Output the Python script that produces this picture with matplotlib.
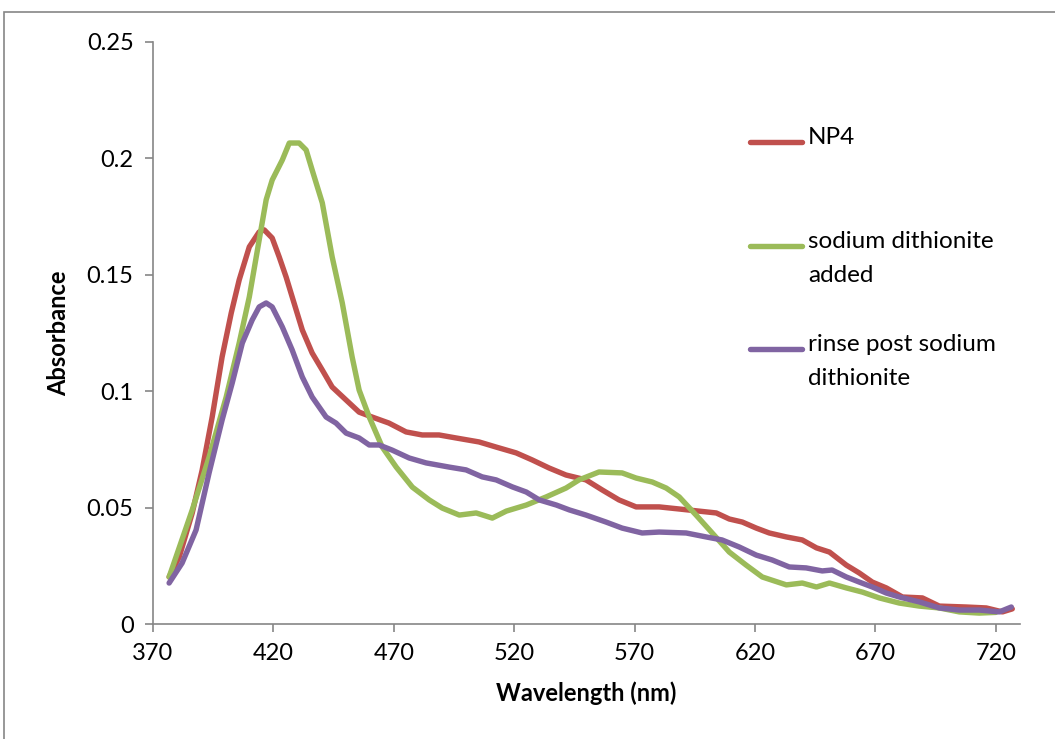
import matplotlib.pyplot as plt
from matplotlib.lines import Line2D
from matplotlib.patches import Rectangle

plt.rcParams['font.family'] = ['Lato', 'DejaVu Sans']

# NP4
np4_wl = [376.7, 380.9, 386.3, 390.4, 394.6, 398.7, 402.5, 405.8, 410.0, 414.1, 416.2,
          419.5, 422.4, 425.3, 427.8, 432.0, 436.1, 440.3, 444.4, 450.2, 455.6, 461.0,
          468.0, 475.1, 481.8, 488.8, 495.9, 505.4, 512.5, 520.8, 527.4, 534.5, 541.5,
          549.8, 556.5, 563.5, 570.6, 580.2, 588.5, 603.9, 609.3, 614.7, 620.5, 625.9,
          633.0, 639.6, 645.5, 650.9, 657.9, 663.3, 668.7, 674.5, 681.2, 689.5, 696.5,
          707.7, 716.0, 722.7, 726.8]
np4_abs = [0.0202, 0.0288, 0.0477, 0.0660, 0.0890, 0.1147, 0.1336, 0.1478, 0.1620, 0.1684, 0.1693,
           0.1658, 0.1577, 0.1490, 0.1405, 0.1263, 0.1164, 0.1091, 0.1018, 0.0962, 0.0910, 0.0889,
           0.0863, 0.0825, 0.0812, 0.0812, 0.0799, 0.0782, 0.0760, 0.0735, 0.0705, 0.0670, 0.0640,
           0.0619, 0.0576, 0.0533, 0.0503, 0.0503, 0.0494, 0.0477, 0.0451, 0.0438, 0.0412, 0.0391,
           0.0374, 0.0361, 0.0327, 0.0309, 0.0253, 0.0219, 0.0180, 0.0155, 0.0116, 0.0112, 0.0077,
           0.0073, 0.0069, 0.0052, 0.0065]

# sodium dithionite added
sda_wl = [376.7, 386.3, 393.3, 400.4, 405.8, 410.0, 414.1, 417.0, 419.5, 423.7, 426.6,
          430.7, 433.6, 436.1, 440.3, 444.4, 448.6, 452.7, 455.6, 459.8, 465.2, 471.0,
          477.7, 484.7, 490.1, 497.2, 504.2, 510.9, 516.7, 525.0, 533.3, 541.5, 546.9,
          555.2, 564.8, 570.6, 577.3, 583.1, 588.5, 595.5, 602.2, 609.3, 616.3, 623.0,
          633.0, 639.6, 645.5, 650.9, 657.9, 664.6, 671.6, 679.9, 688.2, 696.5, 704.8,
          713.1, 720.0]
sda_abs = [0.0202, 0.0490, 0.0717, 0.0975, 0.1207, 0.1405, 0.1650, 0.1822, 0.1907, 0.1993, 0.2066,
           0.2066, 0.2036, 0.1950, 0.1809, 0.1577, 0.1379, 0.1147, 0.1005, 0.0889, 0.0760, 0.0674,
           0.0588, 0.0533, 0.0498, 0.0468, 0.0477, 0.0455, 0.0485, 0.0511, 0.0546, 0.0584, 0.0619,
           0.0653, 0.0649, 0.0627, 0.0610, 0.0584, 0.0546, 0.0468, 0.0391, 0.0309, 0.0253, 0.0202,
           0.0168, 0.0176, 0.0159, 0.0176, 0.0155, 0.0137, 0.0112, 0.0090, 0.0077, 0.0069, 0.0052,
           0.0047, 0.0050]

# rinse post sodium dithionite
rin_wl = [376.7, 382.1, 387.9, 393.3, 398.7, 402.9, 407.1, 411.2, 414.1, 417.0, 419.5,
          423.7, 427.8, 432.0, 436.1, 441.9, 446.0, 450.2, 455.6, 459.8, 463.9, 469.3,
          476.4, 483.4, 493.0, 500.0, 506.7, 512.5, 519.2, 525.0, 530.4, 537.5, 542.9,
          549.8, 558.1, 564.8, 573.1, 580.2, 591.4, 599.7, 606.3, 613.4, 620.5, 627.1,
          634.2, 641.2, 647.9, 652.0, 657.9, 663.3, 668.7, 674.5, 679.9, 688.2, 696.5,
          704.8, 713.1, 721.4, 726.4]
rin_abs = [0.0176, 0.0262, 0.0404, 0.0649, 0.0876, 0.1035, 0.1207, 0.1306, 0.1362, 0.1379, 0.1362,
           0.1276, 0.1177, 0.1061, 0.0975, 0.0889, 0.0863, 0.0820, 0.0799, 0.0769, 0.0769, 0.0747,
           0.0713, 0.0692, 0.0674, 0.0662, 0.0632, 0.0619, 0.0589, 0.0567, 0.0533, 0.0511, 0.0490,
           0.0468, 0.0438, 0.0412, 0.0391, 0.0395, 0.0391, 0.0374, 0.0361, 0.0331, 0.0296, 0.0275,
           0.0245, 0.0241, 0.0228, 0.0232, 0.0202, 0.0180, 0.0159, 0.0133, 0.0116, 0.0095, 0.0069,
           0.0060, 0.0060, 0.0052, 0.0073]

labels = ['NP4', 'sodium dithionite\nadded', 'rinse post sodium\ndithionite']
colors = ['#C0504D', '#9BBB59', '#8064A2']
xticks = [370, 420, 470, 520, 570, 620, 670, 720]
yticks = [0, 0.05, 0.1, 0.15, 0.2, 0.25]
ytick_labels = ['0', '0.05', '0.1', '0.15', '0.2', '0.25']

fig = plt.figure(figsize=(10.55, 7.39), dpi=100)
ax = fig.add_axes([0.145, 0.1556, 0.8218, 0.7876])

series = [(np4_wl, np4_abs), (sda_wl, sda_abs), (rin_wl, rin_abs)]
for (x, y), c in zip(series, colors):
    ax.plot(x, y, color=c, lw=3.9, solid_capstyle='round', solid_joinstyle='round')

ax.set_xlim(370, 730)
ax.set_ylim(0, 0.25)
ax.set_xticks(xticks)
ax.set_yticks(yticks)
ax.set_yticklabels(ytick_labels)
for s in ['top', 'right']:
    ax.spines[s].set_visible(False)
for s in ['left', 'bottom']:
    ax.spines[s].set_color('#868686')
    ax.spines[s].set_linewidth(1.2)
ax.tick_params(direction='out', length=6, width=1.2, color='#868686',
               labelsize=17, pad=8)
ax.set_xlabel('Wavelength (nm)', fontsize=17, fontweight='bold', labelpad=12)
ax.set_ylabel('Absorbance', fontsize=17, fontweight='bold', labelpad=12)

# legend drawn by hand, Excel style
W, H = 1055, 739
leg_y = [142, 246, 349]
for yy, c, lab in zip(leg_y, colors, labels):
    fig.add_artist(Line2D([750 / W, 802 / W], [1 - yy / H, 1 - yy / H],
                          color=c, lw=3.9, solid_capstyle='round'))
    fig.text(808 / W, 1 - (yy - 15) / H, lab, fontsize=17.5, va='top', ha='left',
             linespacing=1.78)

# outer chart frame
fig.add_artist(Rectangle((4 / W, -0.1), 1.2, 1 - 12 / H + 0.1, transform=fig.transFigure,
                         fill=False, edgecolor='#868686', lw=1.2))

fig.savefig('out.png', dpi=100)
